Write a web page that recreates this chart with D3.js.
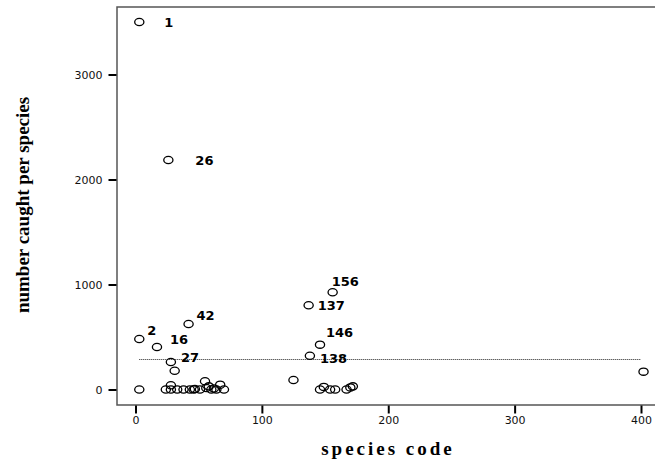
<!DOCTYPE html>
<html>
<head>
<meta charset="utf-8">
<script src="https://cdn.jsdelivr.net/npm/d3@7"></script>
<style>
  html, body { margin: 0; padding: 0; background: #fff; }
  svg { display: block; }
</style>
</head>
<body>
<svg id="chart" width="655" height="462"></svg>
<script>
// Species code vs. number caught; labelled points carry their species code.
const speciesCode = [3, 3, 3, 17, 26, 28, 31, 42,
  24, 28, 28, 33, 38, 43, 46, 47, 51, 55, 56, 58, 60, 62, 64, 67, 70,
  125, 137, 138, 146, 156,
  146, 149, 154, 158, 167, 170, 172, 402];
const numberCaught = [3500, 481, 0, 405, 2186, 262, 179, 624,
  0, 40, 0, 0, 0, 0, 0, 5, 0, 78, 14, 30, 0, 10, 0, 46, 0,
  90, 802, 322, 427, 926,
  0, 25, 0, 0, 0, 20, 30, 170];
const pointLabels = ["1", "2", "", "16", "26", "27", "", "42",
  "", "", "", "", "", "", "", "", "", "", "", "", "", "", "", "", "",
  "", "137", "138", "146", "156",
  "", "", "", "", "", "", "", ""];
// label offsets (dx, dy) from the point, in pixels
const labelDx = {"1": 25, "2": 8, "16": 13, "26": 27, "27": 10, "42": 8, "137": 9, "138": 10, "146": 6, "156": -1};
const labelDy = {"1": 0, "2": -9, "16": -8, "26": 0, "27": -5, "42": -9, "137": 0, "138": 3, "146": -12, "156": -11};
const xTicks = [0, 100, 200, 300, 400];
const yTicks = [0, 1000, 2000, 3000];
const refLevel = 290;
const refFrom = 3, refTo = 400;

const svg = d3.select("#chart");
const frame = {left: 117, top: 7, bottom: 405, right: 662};

const x = d3.scaleLinear().domain([0, 400]).range([135.5, 641]);
const y = d3.scaleLinear().domain([0, 3000]).range([389.5, 74.5]);

// plot frame
svg.append("rect")
  .attr("x", frame.left).attr("y", frame.top)
  .attr("width", frame.right - frame.left).attr("height", frame.bottom - frame.top)
  .attr("fill", "none").attr("stroke", "#555").attr("stroke-width", 1.5);

// axes
const fmt = d3.format("d");
const xAxis = d3.axisBottom(x).tickValues(xTicks).tickFormat(fmt).tickSize(8).tickSizeOuter(0).tickPadding(3);
const gx = svg.append("g").attr("transform", `translate(0,${frame.bottom + 0.5})`).call(xAxis);
const yAxis = d3.axisLeft(y).tickValues(yTicks).tickFormat(fmt).tickSize(8).tickSizeOuter(0).tickPadding(6);
const gy = svg.append("g").attr("transform", `translate(${frame.left - 0.5},0)`).call(yAxis);
[gx, gy].forEach(g => {
  g.select(".domain").remove();
  g.selectAll(".tick line").attr("stroke", "#000").attr("stroke-width", 2);
  g.selectAll(".tick text")
    .attr("fill", "#111")
    .style("font-family", "'DejaVu Sans', sans-serif")
    .style("font-size", "11px");
});

// reference line
svg.append("line")
  .attr("x1", x(refFrom)).attr("x2", x(refTo))
  .attr("y1", Math.round(y(refLevel)) + 0.5).attr("y2", Math.round(y(refLevel)) + 0.5)
  .attr("stroke", "#222").attr("stroke-width", 1).attr("stroke-dasharray", "1,1");

// points
const pts = speciesCode.map((s, i) => ({s, n: numberCaught[i], lab: pointLabels[i]}));
svg.append("g").selectAll("ellipse").data(pts).join("ellipse")
  .attr("cx", d => x(d.s)).attr("cy", d => y(d.n))
  .attr("rx", 4.6).attr("ry", 3.6)
  .attr("fill", "none").attr("stroke", "#000").attr("stroke-width", 1.3);

// point labels
svg.append("g").selectAll("text").data(pts.filter(d => d.lab)).join("text")
  .attr("x", d => x(d.s) + labelDx[d.lab])
  .attr("y", d => y(d.n) + labelDy[d.lab])
  .attr("dy", "0.36em")
  .style("font-family", "'DejaVu Sans', sans-serif")
  .style("font-weight", "bold")
  .style("font-size", "13px")
  .attr("fill", "#000")
  .text(d => d.lab);

// axis titles
svg.append("text")
  .attr("x", 388).attr("y", 455)
  .attr("text-anchor", "middle")
  .style("font-family", "'Liberation Serif', serif")
  .style("font-weight", "bold")
  .style("font-size", "19px")
  .style("letter-spacing", "3px")
  .text("species code");

svg.append("text")
  .attr("transform", "translate(29,205) rotate(-90)")
  .attr("text-anchor", "middle")
  .style("font-family", "'Liberation Serif', serif")
  .style("font-weight", "bold")
  .style("font-size", "19px")
  .text("number caught per species");
</script>
</body>
</html>
